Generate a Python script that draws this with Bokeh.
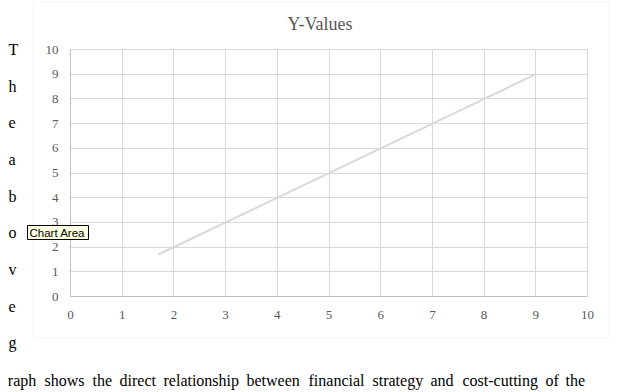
from bokeh.plotting import figure
from bokeh.models import Plot, Range1d, FixedTicker, Label, BoxAnnotation
from bokeh.embed import file_html
from bokeh.resources import INLINE

# ---- data ----
x_values = [1.7, 9.0]
y_values = [1.7, 9.0]
x_ticks = [0, 1, 2, 3, 4, 5, 6, 7, 8, 9, 10]
y_ticks = [0, 1, 2, 3, 4, 5, 6, 7, 8, 9, 10]
title_text = "Y-Values"
side_letters = ["T", "h", "e", "a", "b", "o", "v", "e", "g"]
bottom_words = ["raph", "shows", "the", "direct", "relationship", "between",
                "financial", "strategy", "and", "cost-cutting", "of", "the"]
tooltip_text = "Chart Area"

# ---- layout (page pixels) ----
W, H = 621, 392
word_x = [7.3, 44, 92, 119, 163, 246, 308, 372, 430, 462, 545, 565]
GRAY_TXT = "#595959"
GRID = "#d9d9d9"
SERIF = "Liberation Serif"


def bare_plot(w, h):
    """A plot whose frame is the whole canvas; data units = canvas pixels."""
    pl = Plot(width=w, height=h, x_range=Range1d(0, w), y_range=Range1d(h, 0),
              min_border_left=0, min_border_right=0, min_border_top=0,
              min_border_bottom=0, title=None, toolbar_location=None,
              output_backend="svg")
    pl.outline_line_color = None
    return pl


# background page
bg = bare_plot(W, H)
bg.background_fill_color = "white"
bg.border_fill_color = "white"
bg.add_layout(BoxAnnotation(left=32.5, right=608.5, top=1.5, bottom=337.5,
                            fill_alpha=0, line_color=GRID, line_width=1))
bg.add_layout(Label(x=319.5, y=23, text=title_text, text_align="center",
                    text_baseline="alphabetic", text_font=SERIF,
                    text_font_size="18px", text_color=GRAY_TXT))
for i, ch in enumerate(side_letters):
    bg.add_layout(Label(x=8, y=49 + 36.68 * i, text=ch, text_align="left",
                        text_baseline="alphabetic", text_font=SERIF,
                        text_font_size="16px", text_color="black"))
for wx, wd in zip(word_x, bottom_words):
    bg.add_layout(Label(x=wx, y=379.5, text=wd, text_align="left",
                        text_baseline="alphabetic", text_font=SERIF,
                        text_font_size="16px", text_color="black"))

# main chart
FG_L, FG_T, FG_W, FG_H = 25, 40, 580, 295
FL, FR, FT, FB = 70, 587, 49, 296
fig = figure(width=FG_W, height=FG_H,
             frame_width=FR - FL, frame_height=FB - FT,
             min_border_left=FL - FG_L, min_border_right=FG_L + FG_W - FR,
             min_border_top=FT - FG_T, min_border_bottom=FG_T + FG_H - FB,
             x_range=Range1d(0, 10), y_range=Range1d(0, 10),
             output_backend="svg", toolbar_location=None)
fig.title.text = ""
fig.background_fill_color = "white"
fig.border_fill_alpha = 0
fig.outline_line_color = GRID
fig.styles = {"position": "absolute", "left": f"{FG_L}px", "top": f"{FG_T}px"}

for ax, ticks in ((fig.xaxis, x_ticks), (fig.yaxis, y_ticks)):
    ax.ticker = FixedTicker(ticks=ticks)
    ax.axis_line_color = "#bfbfbf"
    ax.major_tick_line_color = None
    ax.minor_tick_line_color = None
    ax.major_tick_out = 0
    ax.major_tick_in = 0
    ax.minor_tick_out = 0
    ax.major_label_text_font = SERIF
    ax.major_label_text_font_size = "13px"
    ax.major_label_text_color = GRAY_TXT
fig.xaxis.major_label_standoff = 14
fig.yaxis.major_label_standoff = 12
fig.xgrid.ticker = FixedTicker(ticks=x_ticks)
fig.ygrid.ticker = FixedTicker(ticks=y_ticks)
fig.grid.grid_line_color = GRID

fig.line(x_values, y_values, line_color="#d9d9d9", line_width=2)

# tooltip "Chart Area"
TL, TT, TW, TH = 27, 225, 62, 15
tip = bare_plot(TW, TH)
tip.background_fill_color = "#ffffe1"
tip.border_fill_color = "#ffffe1"
tip.outline_line_color = "black"
tip.add_layout(Label(x=2, y=7.6, text=tooltip_text, text_align="left",
                     text_baseline="alphabetic", text_font="Liberation Sans",
                     text_font_size="11.5px", text_color="black"))
tip.styles = {"position": "absolute", "left": f"{TL}px", "top": f"{TT}px"}

# separate roots (no frame alignment between them), stacked with CSS
p = [bg, fig, tip]

open("out.html", "w").write(file_html(p, INLINE))
